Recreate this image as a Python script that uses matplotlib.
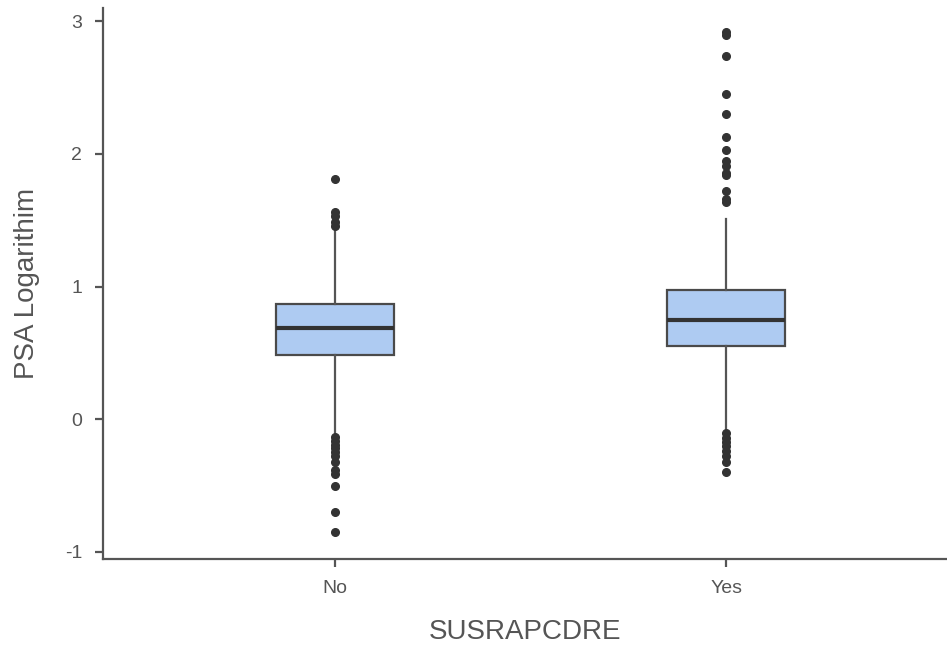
import matplotlib.pyplot as plt

plt.rcParams['font.family'] = ['Liberation Sans', 'DejaVu Sans']
plt.rcParams['axes.unicode_minus'] = False

categories = ['No', 'Yes']

# box summaries
q1 = [0.482, 0.552]
med = [0.685, 0.745]
q3 = [0.866, 0.973]
whislo = [-0.10, -0.075]
whishi = [1.43, 1.51]

fliers_no = [1.81, 1.56, 1.53, 1.49, 1.46,
             -0.13, -0.16, -0.19, -0.22, -0.25, -0.28, -0.32,
             -0.38, -0.41, -0.50, -0.70, -0.85]
fliers_yes = [2.92, 2.90, 2.74, 2.45, 2.30, 2.13, 2.03, 1.945, 1.91,
              1.86, 1.84, 1.72, 1.66, 1.64,
              -0.10, -0.14, -0.17, -0.20, -0.24, -0.28, -0.32, -0.40]
fliers = [fliers_no, fliers_yes]

stats = []
for i, name in enumerate(categories):
    stats.append(dict(label=name, q1=q1[i], med=med[i], q3=q3[i],
                      whislo=whislo[i], whishi=whishi[i], fliers=fliers[i]))

fig = plt.figure(figsize=(9.47, 6.5), dpi=100)
ax = fig.add_axes([0.1088, 0.14, 0.8912, 0.8477])

ax.bxp(stats, positions=[0, 1], widths=0.3, patch_artist=True,
       boxprops=dict(facecolor='#aecbf2', edgecolor='#4a4a4a', linewidth=1.6),
       medianprops=dict(color='#333333', linewidth=3),
       whiskerprops=dict(color='#555555', linewidth=1.6),
       capprops=dict(linewidth=0),
       flierprops=dict(marker='o', markersize=5.5, markerfacecolor='#333333',
                       markeredgecolor='#333333'))

ax.set_xlim(-0.593, 1.565)
ax.set_ylim(-1.053, 3.10)
ax.set_yticks([-1, 0, 1, 2, 3])
ax.set_xticks([0, 1])
ax.set_xticklabels(categories)

for s in ['top', 'right']:
    ax.spines[s].set_visible(False)
for s in ['left', 'bottom']:
    ax.spines[s].set_color('#555555')
    ax.spines[s].set_linewidth(1.6)
ax.tick_params(colors='#555555', labelcolor='#555555', labelsize=14,
               width=1.6, length=6, pad=9)

ax.set_xlabel('SUSRAPCDRE', fontsize=20, color='#555555', labelpad=16)
ax.set_ylabel('PSA Logarithim', fontsize=20, color='#555555', labelpad=18)

fig.savefig('out.png', dpi=100)
